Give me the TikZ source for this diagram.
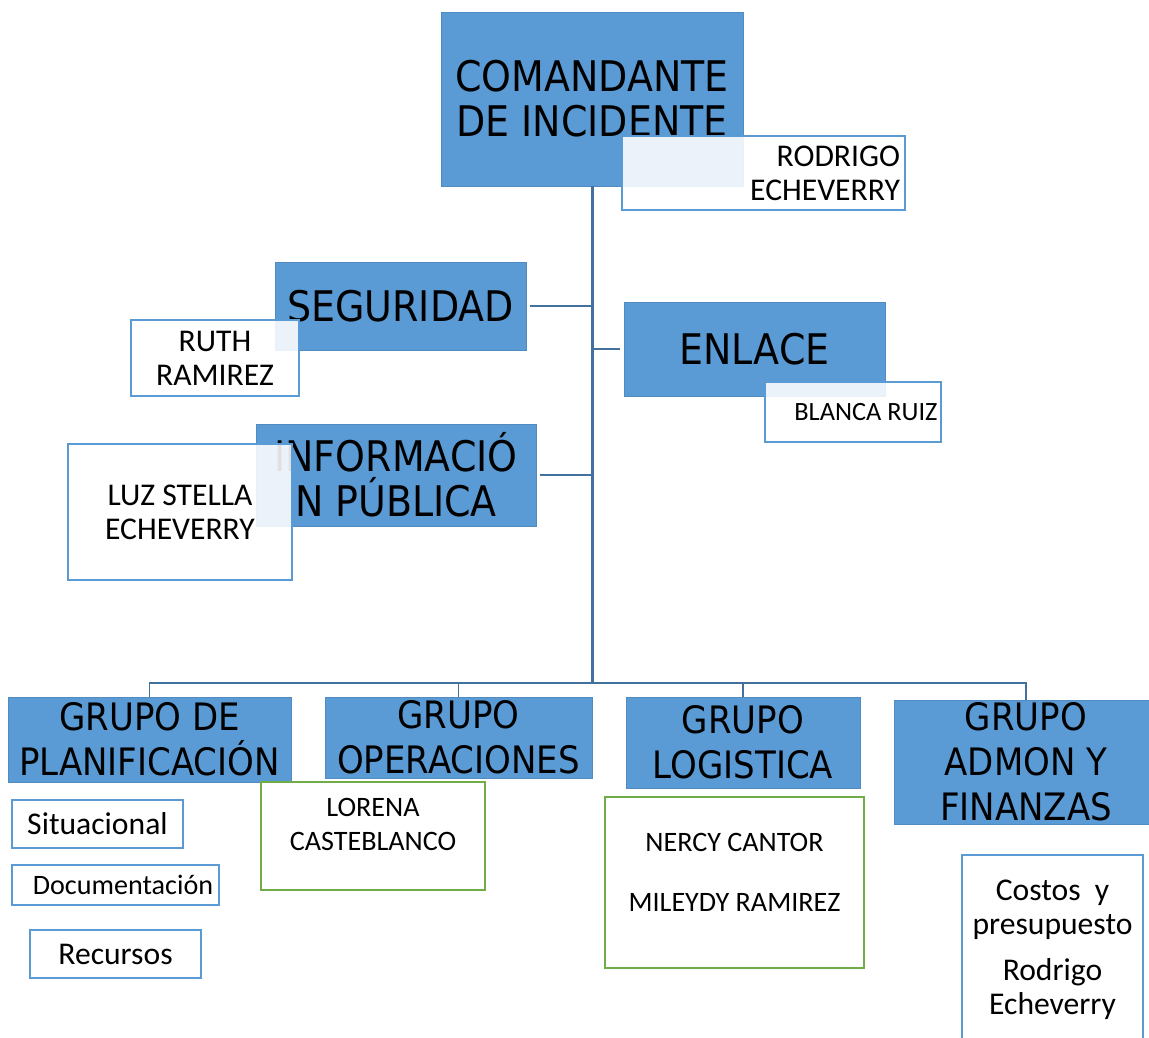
\documentclass[tikz,border=0pt]{standalone}
\usepackage{fontspec}
\setmainfont{Carlito}
\newfontfamily\titlefont[FakeStretch=0.9]{DejaVu Sans}
\usetikzlibrary{positioning}
\definecolor{boxblue}{HTML}{5B9BD5}
\definecolor{linkblue}{HTML}{41719C}
\definecolor{boxgreen}{HTML}{70AD47}

\begin{document}
\begin{tikzpicture}[
    rolebox/.style={fill=boxblue, draw=boxblue!90!black, line width=0.3pt, inner sep=0pt, align=center,
        font=\titlefont\fontsize{24}{25.6}\selectfont},
    groupbox/.style={rolebox, font=\titlefont\fontsize{21.5}{25.6}\selectfont},
    namebox/.style={draw=boxblue, line width=1pt, fill=white, fill opacity=0.88, text opacity=1,
        inner sep=0pt, align=center, font=\fontsize{18}{19.4}\selectfont},
    teambox/.style={draw=boxgreen, line width=1pt, fill=white},
    teamtext/.style={align=center, font=\fontsize{16}{19.4}\selectfont},
    link/.style={draw=linkblue, line width=1.1pt},
    trunk/.style={draw=linkblue, line width=1.7pt}
]
    \useasboundingbox (0,0) rectangle (22.98,-20.76);

    % Command box
    \node[rolebox, minimum width=6.04cm, minimum height=3.48cm] (ci) at (11.84,-1.98) {COMANDANTE\\DE INCIDENTE};

    % Staff boxes
    \node[rolebox, minimum width=5.02cm, minimum height=1.76cm] (seg) at (8.01,-6.12) {SEGURIDAD};
    \node[rolebox, minimum width=5.22cm, minimum height=1.88cm] (enlace) at (15.09,-6.98) {ENLACE};
    \node[rolebox, minimum width=5.60cm, minimum height=2.04cm] (info) at (7.92,-9.50) {INFORMACIÓ\\N PÚBLICA};

    % Groups
    \node[groupbox, minimum width=5.66cm, minimum height=1.70cm] (plan) at (2.99,-14.79) {GRUPO DE\\PLANIFICACIÓN};
    \node[groupbox, minimum width=5.34cm, minimum height=1.62cm] (oper) at (9.17,-14.75) {GRUPO\\OPERACIONES};
    \node[groupbox, minimum width=4.68cm, minimum height=1.82cm] (log) at (14.86,-14.85) {GRUPO\\LOGISTICA};
    \node[groupbox, minimum width=5.28cm, minimum height=2.48cm] (admon) at (20.52,-15.24) {GRUPO\\ADMON Y\\FINANZAS};

    % Connectors
    \coordinate (busy) at (0,-13.66);
    \coordinate (bus) at (ci.south |- busy);
    \draw[trunk] (ci.south) -- (bus);
    \draw[link, shorten <=2pt] (seg.east) -- (seg.east -| bus);
    \draw[link, shorten <=2pt] (enlace.west) -- (enlace.west -| bus);
    \draw[link, shorten <=2pt] (info.east) -- (info.east -| bus);
    \draw[link] (plan.north) |- (bus) -| (admon.north);
    \draw[link] (oper.north) -- (oper.north |- bus);
    \draw[link] (log.north) -- (log.north |- bus);

    % Names
    \node[namebox, minimum width=5.66cm, minimum height=1.48cm, text width=5.46cm, align=right] (rodrigo) at (15.27,-3.46) {RODRIGO\\ECHEVERRY};
    \node[namebox, minimum width=3.36cm, minimum height=1.52cm] (ruth) at (4.30,-7.16) {RUTH\\RAMIREZ};
    \node[namebox, minimum width=3.52cm, minimum height=1.20cm] (blanca) at (17.06,-8.24) {};
    \node[anchor=east, inner sep=0pt, font=\fontsize{15}{18}\selectfont] (blancatxt) at ([xshift=-0.08cm]blanca.east) {BLANCA RUIZ};
    \node[namebox, minimum width=4.48cm, minimum height=2.72cm] (luz) at (3.60,-10.24) {LUZ STELLA\\ECHEVERRY};

    % Planning units
    \node[namebox, minimum width=3.42cm, minimum height=0.96cm] (situ) at (1.95,-16.48) {Situacional};
    \node[namebox, minimum width=4.14cm, minimum height=0.80cm, font=\fontsize{16}{19.4}\selectfont] (docu) at (2.31,-17.70) {\hspace{0.3cm}Documentación};
    \node[namebox, minimum width=3.42cm, minimum height=0.96cm] (recu) at (2.31,-19.08) {Recursos};

    % Teams
    \node[teambox, minimum width=4.48cm, minimum height=2.16cm] (lorena) at (7.46,-16.72) {};
    \node[teamtext] (lorenatxt) at ([yshift=0.23cm]lorena.center) {LORENA\\CASTEBLANCO};
    \node[teambox, minimum width=5.18cm, minimum height=3.42cm] (nercy) at (14.69,-17.65) {};
    \node[teamtext] (nercytxt) at ([yshift=0.21cm]nercy.center) {NERCY CANTOR\\[14.7pt]MILEYDY RAMIREZ};
    \node[namebox, minimum width=3.62cm, minimum height=3.8cm] (costos) at (21.05,-19.00) {Costos\ \ y\\presupuesto\\[6.8pt]Rodrigo\\Echeverry};
\end{tikzpicture}
\end{document}
